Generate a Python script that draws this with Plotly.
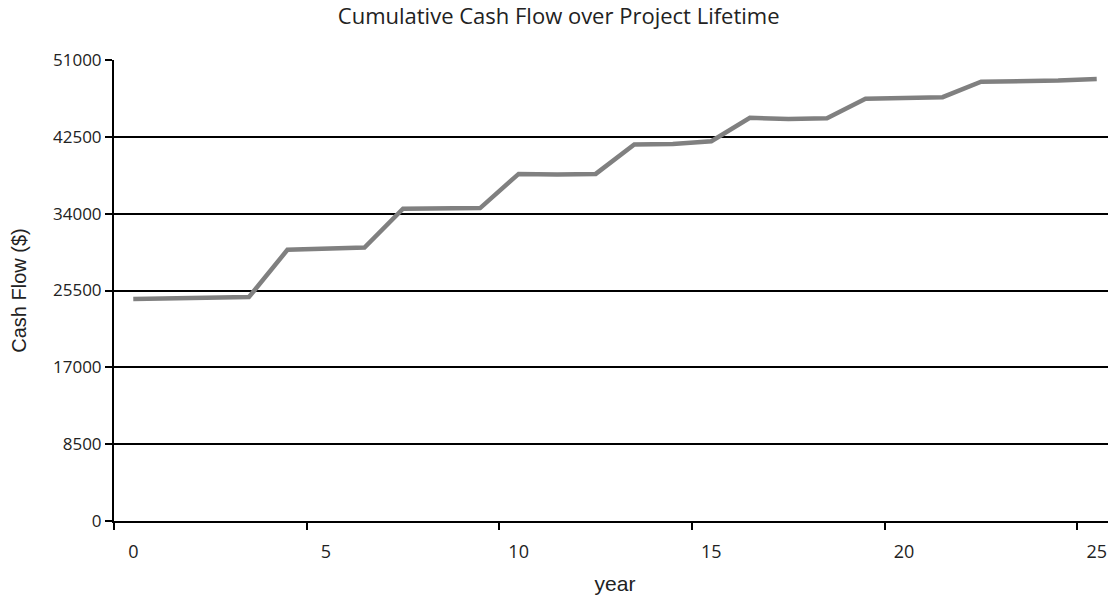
import plotly.graph_objects as go

years = list(range(26))
cash_flow = [24550, 24660, 24730, 24770, 30000, 30120, 30260, 34550, 34630, 34620,
             38400, 38330, 38400, 41650, 41720, 42010, 44600, 44480, 44560, 46720,
             46790, 46890, 48600, 48620, 48720, 48890]
y_ticks = [0, 8500, 17000, 25500, 34000, 42500, 51000]
x_labels = [0, 5, 10, 15, 20, 25]
x_tick_marks = [-0.5, 4.5, 9.5, 14.5, 19.5, 24.5]

fig = go.Figure()
fig.add_trace(go.Scatter(
    x=years, y=cash_flow, mode="lines",
    line=dict(color="#808080", width=4.5),
    showlegend=False, hoverinfo="x+y",
))

fig.update_layout(
    width=1108, height=592,
    paper_bgcolor="white", plot_bgcolor="white",
    margin=dict(l=106, r=0, t=52, b=79),
    title=dict(text="Cumulative Cash Flow over Project Lifetime",
               x=0.497, xanchor="center", y=1, yanchor="top",
               pad=dict(t=1, b=0, l=0, r=0),
               font=dict(family="Open Sans, sans-serif", size=22, color="#222222")),
    font=dict(family="Open Sans, sans-serif", color="#222222"),
)

fig.update_xaxes(
    range=[-0.5, 25.5],
    tickmode="array", tickvals=x_labels, ticktext=[str(v) for v in x_labels],
    ticks="", ticklabelstandoff=13,
    tickfont=dict(family="Open Sans, sans-serif", size=18, color="#222222"),
    minor=dict(tickmode="array", tickvals=x_tick_marks, ticks="outside",
               ticklen=7, tickwidth=1.5, tickcolor="black", showgrid=False),
    showline=True, linecolor="black", linewidth=2,
    showgrid=False, zeroline=False,
    title=dict(text="year", standoff=15,
               font=dict(family="Liberation Sans, Arial, sans-serif", size=21, color="#222222")),
)

fig.update_yaxes(
    range=[0, 51000],
    tickmode="array", tickvals=y_ticks, ticktext=[str(v) for v in y_ticks],
    ticks="outside", ticklen=7, tickwidth=1.5, tickcolor="black",
    tickfont=dict(family="Open Sans, sans-serif", size=17, color="#222222"),
    showline=True, linecolor="black", linewidth=2,
    showgrid=True, gridcolor="black", gridwidth=1.5,
    zeroline=False,
    title=dict(text="Cash Flow ($)", standoff=21,
               font=dict(family="Liberation Sans, Arial, sans-serif", size=20, color="#222222")),
)

fig.write_html("out.html")
